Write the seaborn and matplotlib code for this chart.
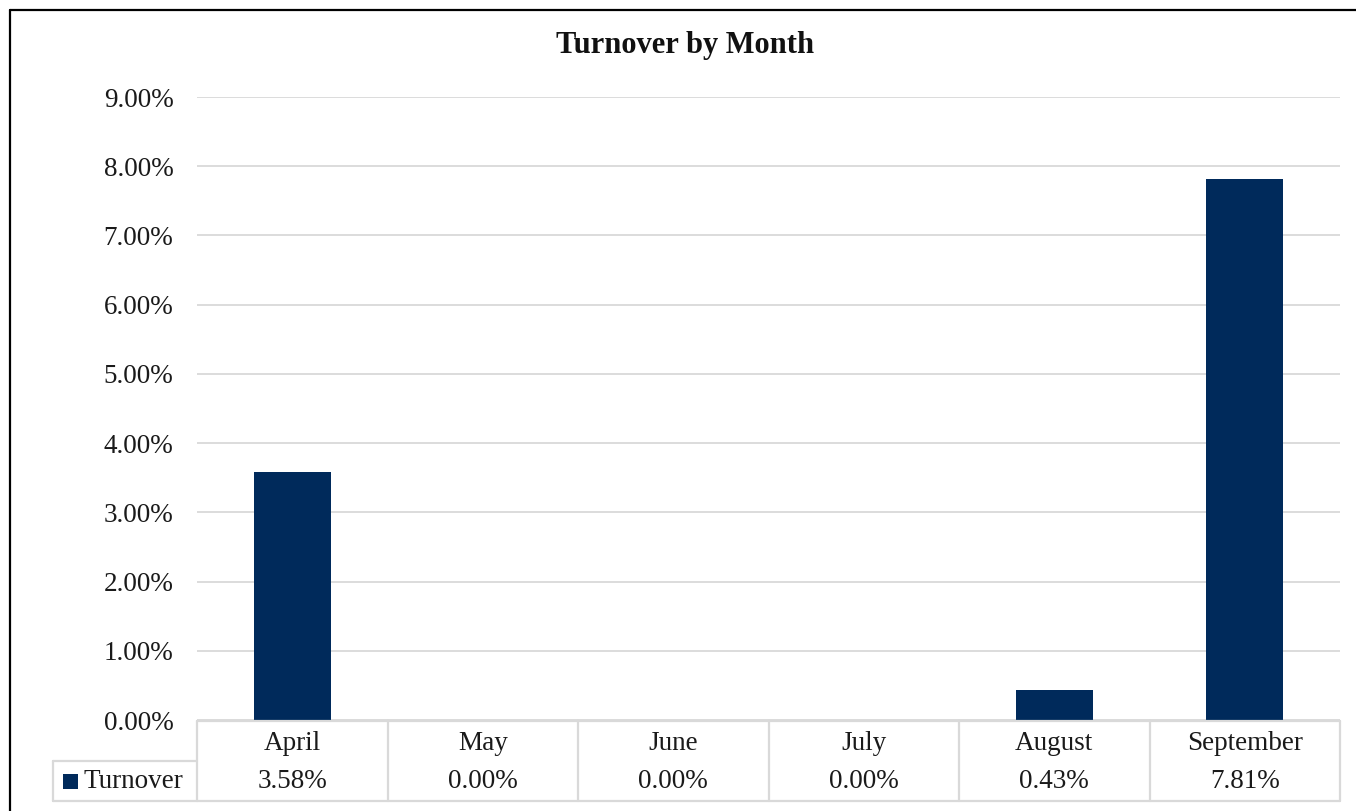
import matplotlib
matplotlib.use("Agg")
import matplotlib.pyplot as plt
import matplotlib.transforms as mtransforms
from matplotlib.lines import Line2D
from matplotlib.patches import Rectangle
import seaborn as sns
import pandas as pd

# Monthly turnover (percent)
months = ["April", "May", "June", "July", "August", "September"]
turnover = [3.58, 0.00, 0.00, 0.00, 0.43, 7.81]
series_name = "Turnover"
title = "Turnover by Month"
yticks = [0, 1, 2, 3, 4, 5, 6, 7, 8, 9]

NAVY = "#002A5B"
GRID = "#D9D9D9"

sns.set_theme(style="white")
plt.rcParams["font.family"] = ["Liberation Serif", "DejaVu Serif"]

W, H, DPI = 1356, 811, 100
fig = plt.figure(figsize=(W / DPI, H / DPI), dpi=DPI)

# plot area in pixels
left_px, right_px, top_px, bottom_px = 197, 1340, 97, 720
ax = fig.add_axes([left_px / W, (H - bottom_px) / H,
                   (right_px - left_px) / W, (bottom_px - top_px) / H])

df = pd.DataFrame({"Month": months, "Turnover": turnover})
sns.barplot(data=df, x="Month", y="Turnover", color=NAVY, width=0.405,
            saturation=1, ax=ax, edgecolor="none")

ax.set_xlim(-0.5, len(months) - 0.5)
ax.set_ylim(yticks[0], yticks[-1])
ax.set_yticks(yticks)
ax.set_yticklabels([f"{v:.2f}%" for v in yticks], fontsize=19.5, color="#1a1a1a")
ax.tick_params(axis="y", length=0, pad=17)
ax.set_xticks([])
ax.set_xlabel("")
ax.set_ylabel("")
for s in ax.spines.values():
    s.set_visible(False)
ax.yaxis.grid(True, color=GRID, linewidth=1.3)
ax.set_axisbelow(True)

# chart title, centred over the whole chart frame
fig.text(685 / W, 1 - 46 / H, title,
         ha="center", va="center", fontsize=22, fontweight="bold", color="#111111")

# data table below the plot area: x in data units, y in axes fraction
ph = bottom_px - top_px
tr = mtransforms.blended_transform_factory(ax.transData, ax.transAxes)
y_top = -1 / ph
y_mid = -41 / ph
y_bot = -81 / ph
n = len(months)
line_kw = dict(color=GRID, linewidth=1.6, transform=tr, clip_on=False)
ax.add_line(Line2D([-0.5, n - 0.5], [y_top, y_top], **line_kw))
ax.add_line(Line2D([-0.5, n - 0.5], [y_bot, y_bot], **line_kw))
for i in range(n + 1):
    ax.add_line(Line2D([i - 0.5, i - 0.5], [y_top, y_bot], **line_kw))
for i, (m, v) in enumerate(zip(months, turnover)):
    ax.text(i, (y_top + y_mid) / 2 - 3 / ph, m, transform=tr, ha="center",
            va="center", fontsize=19.5, color="#1a1a1a")
    ax.text(i, (y_mid + y_bot) / 2, f"{v:.2f}%", transform=tr, ha="center",
            va="center", fontsize=19.5, color="#1a1a1a")

# legend key cell to the left of the value row
ta = ax.transAxes
pw = right_px - left_px
lx = (53 - left_px) / pw
full_kw = dict(color=GRID, linewidth=1.6, transform=ta, clip_on=False)
ax.add_line(Line2D([lx, 0], [y_mid, y_mid], **full_kw))
ax.add_line(Line2D([lx, 0], [y_bot, y_bot], **full_kw))
ax.add_line(Line2D([lx, lx], [y_mid, y_bot], **full_kw))
sq = 15
ax.add_patch(Rectangle(((63 - left_px) / pw, (y_mid + y_bot) / 2 - sq / 2 / ph),
                       sq / pw, sq / ph, facecolor=NAVY, edgecolor="none",
                       transform=ta, clip_on=False))
ax.text((83 - left_px) / pw, (y_mid + y_bot) / 2, series_name, transform=ta,
        ha="left", va="center", fontsize=19.5, color="#1a1a1a")

# chart frame
fig.add_artist(Line2D([9.5 / W, 1.0], [1 - 9.5 / H, 1 - 9.5 / H],
                      color="black", linewidth=1.6, transform=fig.transFigure))
fig.add_artist(Line2D([9.5 / W, 9.5 / W], [0.0, 1 - 9.5 / H],
                      color="black", linewidth=1.6, transform=fig.transFigure))

fig.savefig("out.png", dpi=DPI, facecolor="white")
